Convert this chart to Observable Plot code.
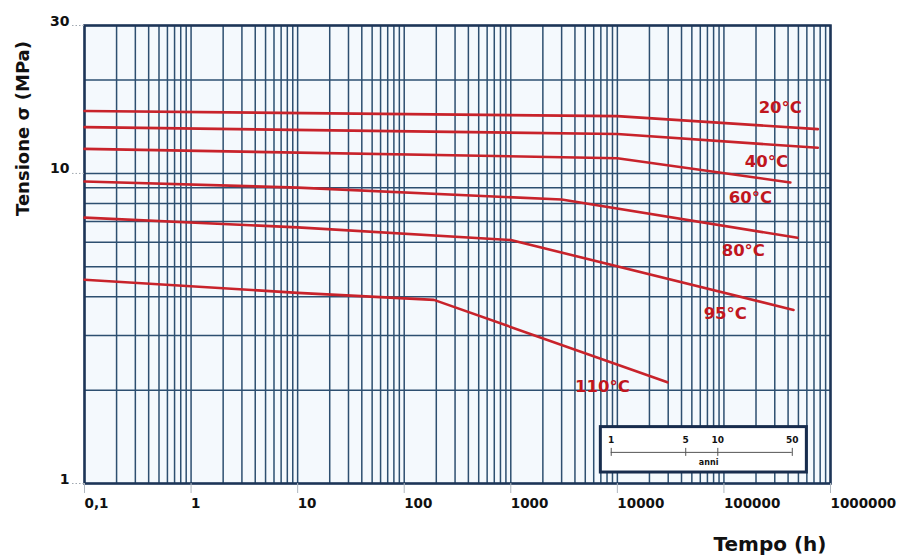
<!DOCTYPE html>
<html><head><meta charset="utf-8">
<script src="https://cdn.jsdelivr.net/npm/d3@7"></script>
<script src="https://cdn.jsdelivr.net/npm/@observablehq/plot@0.6"></script>
<style>body{margin:0;background:#fff} svg{display:block}</style>
</head><body><div id="chart"></div>
<script>
// Series (temperature curves): time in hours, stress in MPa
const temps = ["20°C", "40°C", "60°C", "80°C", "95°C", "110°C"];
const t20 = [0.1, 10000, 760000];      const s20 = [15.9, 15.3, 13.9];
const t40 = [0.1, 10000, 760000];      const s40 = [14.1, 13.4, 12.1];
const t60 = [0.1, 10000, 420000];      const s60 = [12.0, 11.2, 9.35];
const t80 = [0.1, 10, 3000, 490000];   const s80 = [9.42, 9.0, 8.24, 6.2];
const t95 = [0.1, 10, 1000, 450000];   const s95 = [7.2, 6.7, 6.1, 3.63];
const t110 = [0.1, 10, 190, 29500];    const s110 = [4.54, 4.12, 3.91, 2.12];
const curveTimes = [t20, t40, t60, t80, t95, t110];
const curveStress = [s20, s40, s60, s80, s95, s110];

// Curve label anchor points (data units)
const labelTimes = [338000, 250000, 177000, 152000, 103000, 7230];
const labelStress = [16.35, 10.9, 8.36, 5.63, 3.52, 2.05];

// Axis ticks
const xTickValues = [0.1, 1, 10, 100, 1000, 10000, 100000, 1000000];
const xTickLabels = ["0,1", "1", "10", "100", "1000", "10000", "100000", "1000000"];
const yTickValues = [1, 10, 30];
const yTickLabels = ["1", "10", "30"];
const yGrid = [1, 2, 3, 4, 5, 6, 7, 8, 9, 10, 20, 30];

// Inset (years scale)
const insetYears = [1, 5, 10, 50];
const hoursPerYear = 8760;
const insetBox = [{x1: 7000, x2: 600000, y1: 1.085, y2: 1.52}];
const insetLineStress = 1.26;
const insetTickStress = [1.223, 1.298];
const insetLabelStress = 1.38;
const anniYear = 8.2;
const anniStress = 1.17;

const rows = [];
temps.forEach((t, i) => curveTimes[i].forEach((x, j) => rows.push({series: t, time: x, stress: curveStress[i][j]})));

const xGrid = [];
for (let e = -1; e < 6; e++) for (let m = 1; m < 10; m++) xGrid.push(+(m * Math.pow(10, e)).toPrecision(6));
xGrid.push(1e6);

const xLabelMap = new Map(xTickValues.map((v, i) => [v, xTickLabels[i]]));
const gridColor = "#2d4f70";
const red = "#c8232b";

const chart = Plot.plot({
  width: 899, height: 557,
  marginLeft: 84, marginRight: 69, marginTop: 25, marginBottom: 74,
  x: {type: "log", domain: [0.1, 1e6], axis: null},
  y: {type: "log", domain: [1, 30], axis: null},
  style: {fontFamily: "DejaVu Sans", background: "white", color: "#111"},
  marks: [
    Plot.frame({fill: "#f4f9fd", stroke: null}),
    Plot.ruleX(xGrid, {stroke: gridColor, strokeWidth: 1.5}),
    Plot.ruleY(yGrid, {stroke: gridColor, strokeWidth: 1.5}),
    Plot.frame({stroke: "#1d3557", strokeWidth: 2.5}),
    Plot.line(rows, {x: "time", y: "stress", z: "series", stroke: red, strokeWidth: 2.6}),
    Plot.text(temps, {x: (d, i) => labelTimes[i], y: (d, i) => labelStress[i], text: d => d,
      fill: "#c0161e", fontSize: 16.5, fontWeight: "bold"}),
    // inset
    Plot.rect(insetBox, {x1: "x1", x2: "x2", y1: "y1", y2: "y2", fill: "white", stroke: "#172c4d", strokeWidth: 3}),
    Plot.ruleY([insetLineStress], {x1: () => insetYears[0] * hoursPerYear, x2: () => insetYears[insetYears.length - 1] * hoursPerYear, stroke: "#555", strokeWidth: 1}),
    Plot.ruleX(insetYears, {x: d => d * hoursPerYear, y1: () => insetTickStress[0], y2: () => insetTickStress[1], stroke: "#555", strokeWidth: 1}),
    Plot.text(insetYears, {x: d => d * hoursPerYear, y: () => insetLabelStress, text: d => String(d), fontSize: 9, fontWeight: "bold"}),
    Plot.text(["anni"], {x: () => anniYear * hoursPerYear, y: () => anniStress, text: d => d, fontSize: 8, fontWeight: "bold"}),
    // axes
    Plot.axisX(xTickValues, {tickSize: 10, tickPadding: 5, tickFormat: d => xLabelMap.get(d), textAnchor: "start",
      fontSize: 13.5, fontWeight: "bold", stroke: "#b0b8c0"}),
    Plot.axisY(yTickValues, {tickSize: 14, tickFormat: () => "", stroke: "#a0a8b0", strokeDasharray: "1.5,2"}),
    Plot.text(yTickValues, {y: d => d, text: (d, i) => yTickLabels[i], frameAnchor: "left", textAnchor: "end",
      lineAnchor: "bottom", dx: -15, dy: 0, fontSize: 14, fontWeight: "bold"}),
    Plot.text(["Tempo (h)"], {text: d => d, frameAnchor: "bottom-right", textAnchor: "end", lineAnchor: "middle",
      dx: -4, dy: 61, fontSize: 20, fontWeight: "bold"}),
    Plot.text(["Tensione σ (MPa)"], {text: d => d, frameAnchor: "left", rotate: -90, textAnchor: "middle", lineAnchor: "middle",
      dx: -61, dy: -126, fontSize: 18, fontWeight: "bold"})
  ]
});
document.getElementById("chart").appendChild(chart);
</script>
</body></html>
